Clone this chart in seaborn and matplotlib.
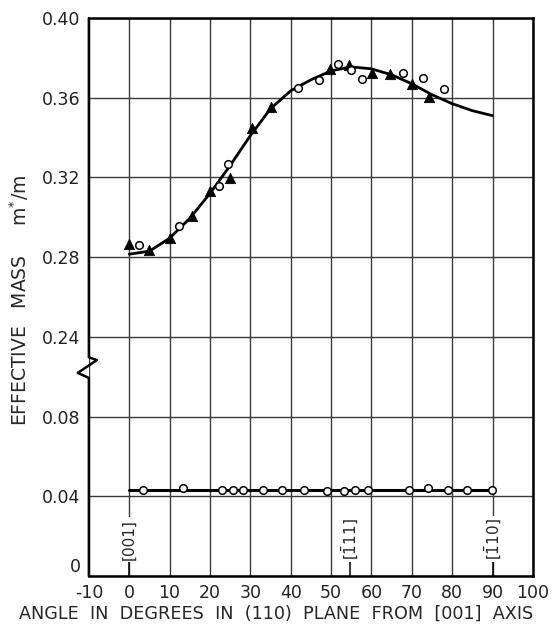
import numpy as np
import matplotlib
matplotlib.use("Agg")
import matplotlib.pyplot as plt
import seaborn as sns

#%% data
# fitted curve for the heavy branch (every 5 deg)
curve_angle = [0, 5, 10, 15, 20, 25, 30, 35, 40, 45, 50, 55, 60, 65, 70, 75, 80, 85, 90]
curve_mass = [0.2815, 0.283, 0.2895, 0.2995, 0.312, 0.326, 0.341, 0.3545, 0.3635, 0.369,
              0.3735, 0.3755, 0.3745, 0.3715, 0.367, 0.3615, 0.357, 0.3535, 0.351]

tri_angle = [0, 4.8, 10, 15.5, 20, 24.9, 30.4, 35.1, 49.8, 54.5, 60.2, 64.6, 70, 74.3]
tri_mass = [0.2867, 0.2834, 0.2897, 0.3006, 0.3131, 0.3198, 0.3449, 0.3553,
            0.3742, 0.3764, 0.3725, 0.3717, 0.3667, 0.3603]

circ_angle = [2.3, 12.4, 22.3, 24.4, 41.9, 46.9, 51.8, 54.9, 57.6, 67.9, 72.8, 78]
circ_mass = [0.2859, 0.2956, 0.3156, 0.3265, 0.3647, 0.3689, 0.3767, 0.3737,
             0.3695, 0.3725, 0.3697, 0.3642]

# light branch
light_line_angle = [0, 90]
light_line_mass = [0.0432, 0.0432]
light_angle = [3.3, 13.2, 22.9, 25.6, 28.3, 33.2, 37.8, 43.4, 49.1, 53.2, 55.9,
               59.2, 69.3, 73.9, 78.9, 83.6, 89.9]
light_mass = [0.0431, 0.0442, 0.0431, 0.0431, 0.0431, 0.0431, 0.0432, 0.0432, 0.0428,
              0.0425, 0.0431, 0.0431, 0.0431, 0.0442, 0.0431, 0.0430, 0.0432]

x_ticks = [-10, 0, 10, 20, 30, 40, 50, 60, 70, 80, 90, 100]
x_ticklabels = ['-10', '0', '10', '20', '30', '40', '50', '60', '70', '80', '90', '100']
y_ticks = [0, 0.04, 0.08, 0.24, 0.28, 0.32, 0.36, 0.40]
y_ticklabels = ['0', '0.04', '0.08', '0.24', '0.28', '0.32', '0.36', '0.40']

directions = ['[001]', r'[$\bar{1}$11]', r'[$\bar{1}$10]']
direction_angle = [0, 54.7, 90]

#%% broken y axis: collapse 0.1044..0.2244
def fwd(y):
    y = np.asarray(y, dtype=float)
    return np.where(y < 0.16, y, y - 0.12)

def inv(u):
    u = np.asarray(u, dtype=float)
    return np.where(u < 0.1044, u, u + 0.12)

#%%
sns.set_style('white')
plt.rcParams['font.family'] = ['DejaVu Sans']

fig = plt.figure(figsize=(5.52, 6.28), dpi=100)
ax = fig.add_axes([0.161, 0.0828, 0.8045, 0.8885])
ax.set_yscale('function', functions=(fwd, inv))
ax.set_xlim(-10, 100)
ax.set_ylim(0, 0.40)

ax.set_xticks(x_ticks)
ax.set_xticklabels(x_ticklabels)
ax.set_yticks(y_ticks)
ax.set_yticklabels(y_ticklabels)
ax.tick_params(length=0, labelsize=12.5, pad=6, colors='#222222')
ax.get_yticklabels()[0].set_va('bottom')
ax.grid(True, color='#3a3a3a', lw=1.0)
ax.set_axisbelow(True)

sns.lineplot(x=curve_angle, y=curve_mass, ax=ax, color='black', lw=2.0, zorder=3)
sns.lineplot(x=light_line_angle, y=light_line_mass, ax=ax, color='black', lw=2.2, zorder=3)
sns.scatterplot(x=tri_angle, y=tri_mass, ax=ax, marker='^', s=55, color='black',
                edgecolor='black', zorder=4)
sns.scatterplot(x=circ_angle, y=circ_mass, ax=ax, marker='o', s=30, facecolor='white',
                edgecolor='black', linewidth=1.1, zorder=4)
sns.scatterplot(x=light_angle, y=light_mass, ax=ax, marker='o', s=30, facecolor='white',
                edgecolor='black', linewidth=1.1, zorder=4)

# crystal direction labels
for lab, a in zip(directions, direction_angle):
    ax.plot([a, a], [0, 0.0094], color='black', lw=1.1, zorder=2)
    ax.text(a, 0.0185, lab, rotation=90, ha='center', va='center', fontsize=11,
            bbox=dict(facecolor='white', edgecolor='none', pad=1.5), zorder=3)

# frame with zigzag break on the left spine
for s in ['top', 'right', 'bottom']:
    ax.spines[s].set_linewidth(1.8)
    ax.spines[s].set_color('black')
ax.spines['left'].set_visible(False)
zx = [0, 0, 0.018, -0.025, 0, 0]
zy = [1, 0.392, 0.387, 0.364, 0.355, 0]
ax.plot(zx, zy, transform=ax.transAxes, color='black', lw=1.8, clip_on=False, zorder=5)

ax.set_xlabel('ANGLE  IN  DEGREES  IN  (110)  PLANE  FROM  [001]  AXIS', fontsize=12.7)
ax.xaxis.set_label_coords(0.421, -0.052)
ax.set_ylabel(r'EFFECTIVE   MASS     m$^{*}$/m', fontsize=13.5)
ax.yaxis.set_label_coords(-0.13, 0.493)

fig.savefig('out.png', dpi=100)
